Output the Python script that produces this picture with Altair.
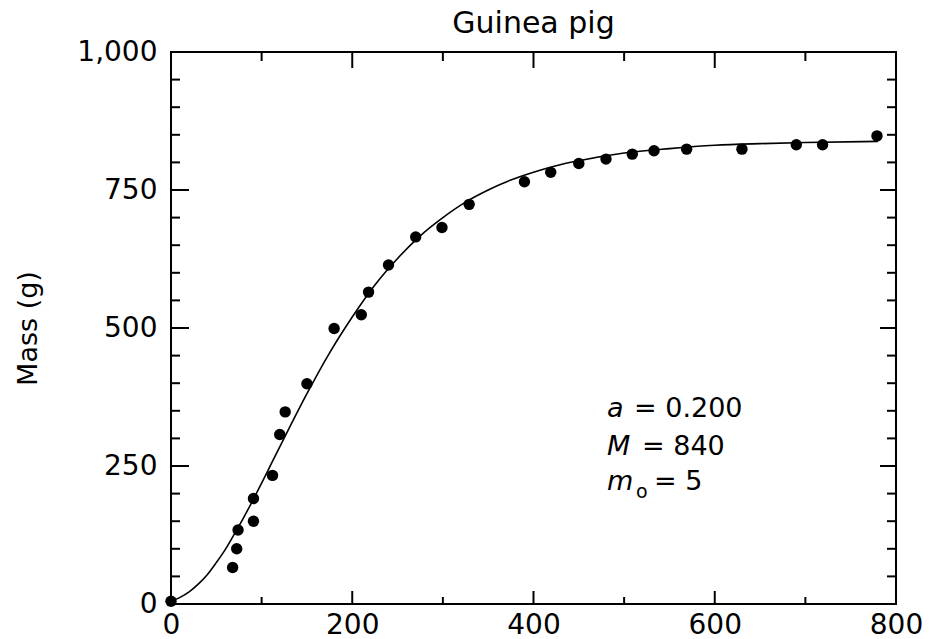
import altair as alt
import pandas as pd

# Observed data (days, grams)
day = [0, 68, 72.5, 74, 91, 91, 112, 120, 126, 150, 180, 210, 218, 240, 270,
       299, 329, 390, 419, 450, 480, 509, 533, 569, 630, 690, 719, 779]
mass = [5, 66, 100, 134, 150, 191, 233, 307, 348, 399, 499, 524, 565, 614, 665,
        682, 724, 765, 782, 798, 806, 815, 821, 824, 824, 832, 832, 848]

# Fitted growth curve
curve_t = [0, 10, 20, 30, 40, 50, 60, 70, 80, 90, 100, 110, 125, 150, 175, 200, 225,
           250, 275, 300, 325, 350, 375, 400, 425, 450, 500, 550, 600, 650, 700, 780]
curve_m = [5, 12, 22, 36, 53, 75, 99, 127, 156, 187, 219, 252, 301, 381, 455, 520, 578,
           626, 667, 700, 728, 750, 768, 782, 794, 803, 817, 825, 831, 834, 836, 838]

x_major = [0, 200, 400, 600, 800]
x_minor = [100, 300, 500, 700]
y_major = [0, 250, 500, 750, 1000]
y_minor = [50, 100, 150, 200, 300, 350, 400, 450, 550, 600, 650, 700, 800, 850, 900, 950]

W, H = 725, 552
FONT = "DejaVu Sans"

pts = pd.DataFrame({"day": day, "mass": mass})
crv = pd.DataFrame({"t": curve_t, "m": curve_m})
xmaj = pd.DataFrame({"v": x_major})
xmin = pd.DataFrame({"v": x_minor})
ymaj = pd.DataFrame({"v": y_major})
ymin = pd.DataFrame({"v": y_minor})

xs = alt.Scale(domain=[0, 800], nice=False, zero=False)
ys = alt.Scale(domain=[0, 1000], nice=False, zero=False)

xaxis = alt.Axis(values=x_major, ticks=False, domain=False, grid=False,
                 labelFont=FONT, labelFontSize=28, labelPadding=7,
                 labelFlush=False, labelColor="black", title=None)
yaxis = alt.Axis(values=y_major, labelExpr="format(datum.value, ',')",
                 ticks=False, domain=False, grid=False, labelFlush=False,
                 labelFont=FONT, labelFontSize=28, labelPadding=14,
                 labelColor="black", title="Mass (g)", titleFont=FONT,
                 titleFontSize=27, titleFontWeight="normal", titleColor="black",
                 titlePadding=34)


def X(field):
    return alt.X(field, type="quantitative", scale=xs, axis=xaxis)


def Y(field):
    return alt.Y(field, type="quantitative", scale=ys, axis=yaxis)


curve = alt.Chart(crv).mark_line(color="black", strokeWidth=1.6, interpolate="monotone").encode(
    x=X("t"), y=Y("m"),
)

points = alt.Chart(pts).mark_circle(color="black", opacity=1, size=130).encode(
    x=X("day"), y=Y("mass"),
)


def xticks(df, length_bottom, length_top):
    b = alt.Chart(df).mark_rule(color="black", strokeWidth=2).encode(
        x=X("v"), y=alt.value(H), y2=alt.value(H - length_bottom))
    t = alt.Chart(df).mark_rule(color="black", strokeWidth=2).encode(
        x=X("v"), y=alt.value(0), y2=alt.value(length_top))
    return [b, t]


def yticks(df, length_left, length_right):
    l = alt.Chart(df).mark_rule(color="black", strokeWidth=2).encode(
        y=Y("v"), x=alt.value(0), x2=alt.value(length_left))
    r = alt.Chart(df).mark_rule(color="black", strokeWidth=2).encode(
        y=Y("v"), x=alt.value(W), x2=alt.value(W - length_right))
    return [l, r]


tick_layers = (xticks(xmaj, 13, 16) + xticks(xmin, 7, 9)
               + yticks(ymaj, 18, 16) + yticks(ymin, 9, 9))


def label(s, x, y, size=27, italic=False):
    kw = dict(font=FONT, fontSize=size, align="left", baseline="alphabetic", color="black")
    if italic:
        kw["fontStyle"] = "italic"
    return alt.Chart(pd.DataFrame({"s": [s]})).mark_text(**kw).encode(
        text="s:N", x=alt.value(x), y=alt.value(y))


title = alt.Chart(pd.DataFrame({"s": ["Guinea pig"]})).mark_text(
    font=FONT, fontSize=30, align="center", baseline="alphabetic", color="black"
).encode(text="s:N", x=alt.value(W / 2), y=alt.value(-19))

annotations = [
    label("a", 436, 365, italic=True), label("= 0.200", 463, 365),
    label("M", 436, 403, italic=True), label("= 840", 471, 403),
    label("m", 436, 438, italic=True), label("o", 465, 446, size=19), label("= 5", 483, 438),
]

chart = alt.layer(
    curve, points, *tick_layers, title, *annotations
).properties(
    width=W, height=H,
    autosize=alt.AutoSizeParams(type="none"),
    padding={"left": 171, "top": 52, "right": 39, "bottom": 35},
    background="white",
).configure_view(
    stroke="black", strokeWidth=2
)

chart.save("out.html", embed_options={"renderer": "svg", "actions": False})
